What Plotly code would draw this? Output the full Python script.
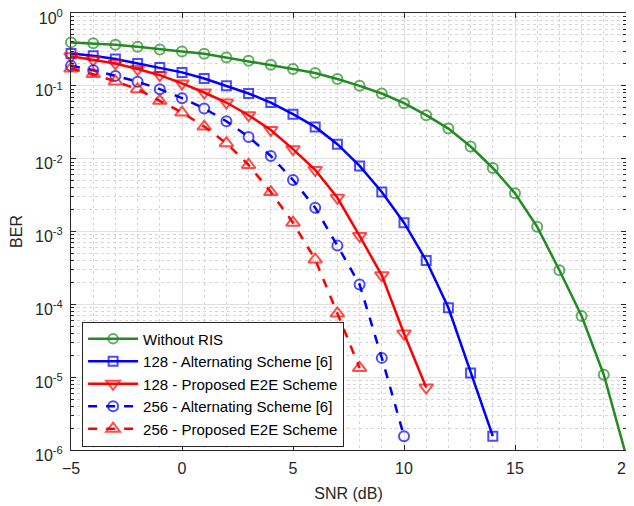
import plotly.graph_objects as go

snr = list(range(-5, 21))

ber_no_ris = [0.395, 0.383, 0.366, 0.344, 0.316, 0.297, 0.276, 0.245, 0.221, 0.195,
              0.170, 0.150, 0.124, 0.100, 0.0785, 0.0578, 0.0395, 0.0259, 0.0147,
              0.00745, 0.00334, 0.00116, 2.94e-4, 6.9e-5, 1.08e-5, 8.5e-7]

snr_128_alt = list(range(-5, 15))
ber_128_alt = [0.279, 0.259, 0.233, 0.203, 0.179, 0.153, 0.126, 0.100, 0.0785, 0.0589,
               0.0408, 0.0273, 0.0158, 0.00794, 0.00348, 0.00132, 4.0e-4, 8.95e-5,
               1.14e-5, 1.55e-6]

snr_128_e2e = list(range(-5, 12))
ber_128_e2e = [0.254, 0.228, 0.203, 0.170, 0.140, 0.108, 0.081, 0.059, 0.0395, 0.0248,
               0.0135, 0.0070, 0.0029, 8.7e-4, 2.5e-4, 3.97e-5, 7.2e-6]

snr_256_alt = list(range(-5, 11))
ber_256_alt = [0.188, 0.164, 0.137, 0.114, 0.090, 0.0677, 0.0489, 0.0327, 0.0199,
               0.0109, 0.0051, 0.00212, 6.4e-4, 1.87e-4, 1.84e-5, 1.55e-6]

snr_256_e2e = list(range(-5, 9))
ber_256_e2e = [0.173, 0.145, 0.115, 0.090, 0.0622, 0.043, 0.0276, 0.0163, 0.0082,
               0.00348, 0.00132, 4.13e-4, 7.5e-5, 1.34e-5]

names = ["Without RIS", "128 - Alternating Scheme [6]", "128 - Proposed E2E Scheme",
         "256 - Alternating Scheme [6]", "256 - Proposed E2E Scheme"]

y_tickvals = [1e-6, 1e-5, 1e-4, 1e-3, 1e-2, 1e-1, 1]
y_ticktext = ["10<sup>-6</sup>", "10<sup>-5</sup>", "10<sup>-4</sup>", "10<sup>-3</sup>",
              "10<sup>-2</sup>", "10<sup>-1</sup>", "10<sup>0</sup>"]
x_tickvals = [-5, 0, 5, 10, 15, 20]

GREEN = "rgb(34,139,34)"
BLUE = "rgb(0,0,255)"
RED = "rgb(255,0,0)"
FONT = "Liberation Sans, Arial"

fig = go.Figure()
specs = [
    (snr, ber_no_ris, GREEN, "solid", "circle-open", 10),
    (snr_128_alt, ber_128_alt, BLUE, "solid", "square-open", 9),
    (snr_128_e2e, ber_128_e2e, RED, "solid", "triangle-down-open", 12),
    (snr_256_alt, ber_256_alt, BLUE, "dash", "circle-open", 10),
    (snr_256_e2e, ber_256_e2e, RED, "dash", "triangle-up-open", 12),
]
for (x, y, c, dash, sym, ms), nm in zip(specs, names):
    # hide markers whose centre lies outside the axes (as MATLAB does)
    sizes = [ms if v >= 1e-6 else 0 for v in y]
    fig.add_trace(go.Scatter(
        x=x, y=y, name=nm, mode="lines+markers",
        line=dict(color=c, width=2.5, dash=dash),
        marker=dict(symbol=sym, size=sizes, color=c, line=dict(color=c, width=2)),
        cliponaxis=False,
    ))

axis_common = dict(
    showline=True, linecolor="#262626", linewidth=1, mirror="allticks",
    ticks="inside", ticklen=5, tickcolor="#262626",
    showgrid=True, gridcolor="rgb(225,225,225)", gridwidth=1,
    zeroline=False, automargin=False, ticklabeloverflow="allow",
    tickfont=dict(family=FONT, size=16, color="#262626"),
)

fig.update_xaxes(
    **axis_common, range=[-5, 20], tickvals=x_tickvals, ticklabelstandoff=4,
    title=dict(text="SNR (dB)", font=dict(family=FONT, size=16, color="#262626"), standoff=11),
    minor=dict(dtick=1, showgrid=True, gridcolor="rgb(215,215,215)", griddash="dot", ticks=""),
)
fig.update_yaxes(
    **axis_common, type="log", range=[-6, 0], tickvals=y_tickvals, ticktext=y_ticktext,
    ticklabelshift=5, ticklabelstandoff=4,
    title=dict(text="BER", font=dict(family=FONT, size=16, color="#262626"), standoff=9),
    minor=dict(dtick="D1", showgrid=True, gridcolor="rgb(215,215,215)", griddash="dot",
               ticks="inside", ticklen=3, tickcolor="#262626"),
)

fig.update_layout(
    width=634, height=506,
    margin=dict(l=63, r=16, t=5, b=64),
    paper_bgcolor="white", plot_bgcolor="white",
    font=dict(family=FONT, size=14, color="#262626"),
    legend=dict(
        x=0.02, y=0.151, xanchor="left", yanchor="middle",
        bgcolor="white", bordercolor="#262626", borderwidth=1,
        font=dict(family=FONT, size=15, color="#000000"),
        itemwidth=50, tracegroupgap=0,
    ),
    showlegend=True,
)

fig.write_html("out.html")
